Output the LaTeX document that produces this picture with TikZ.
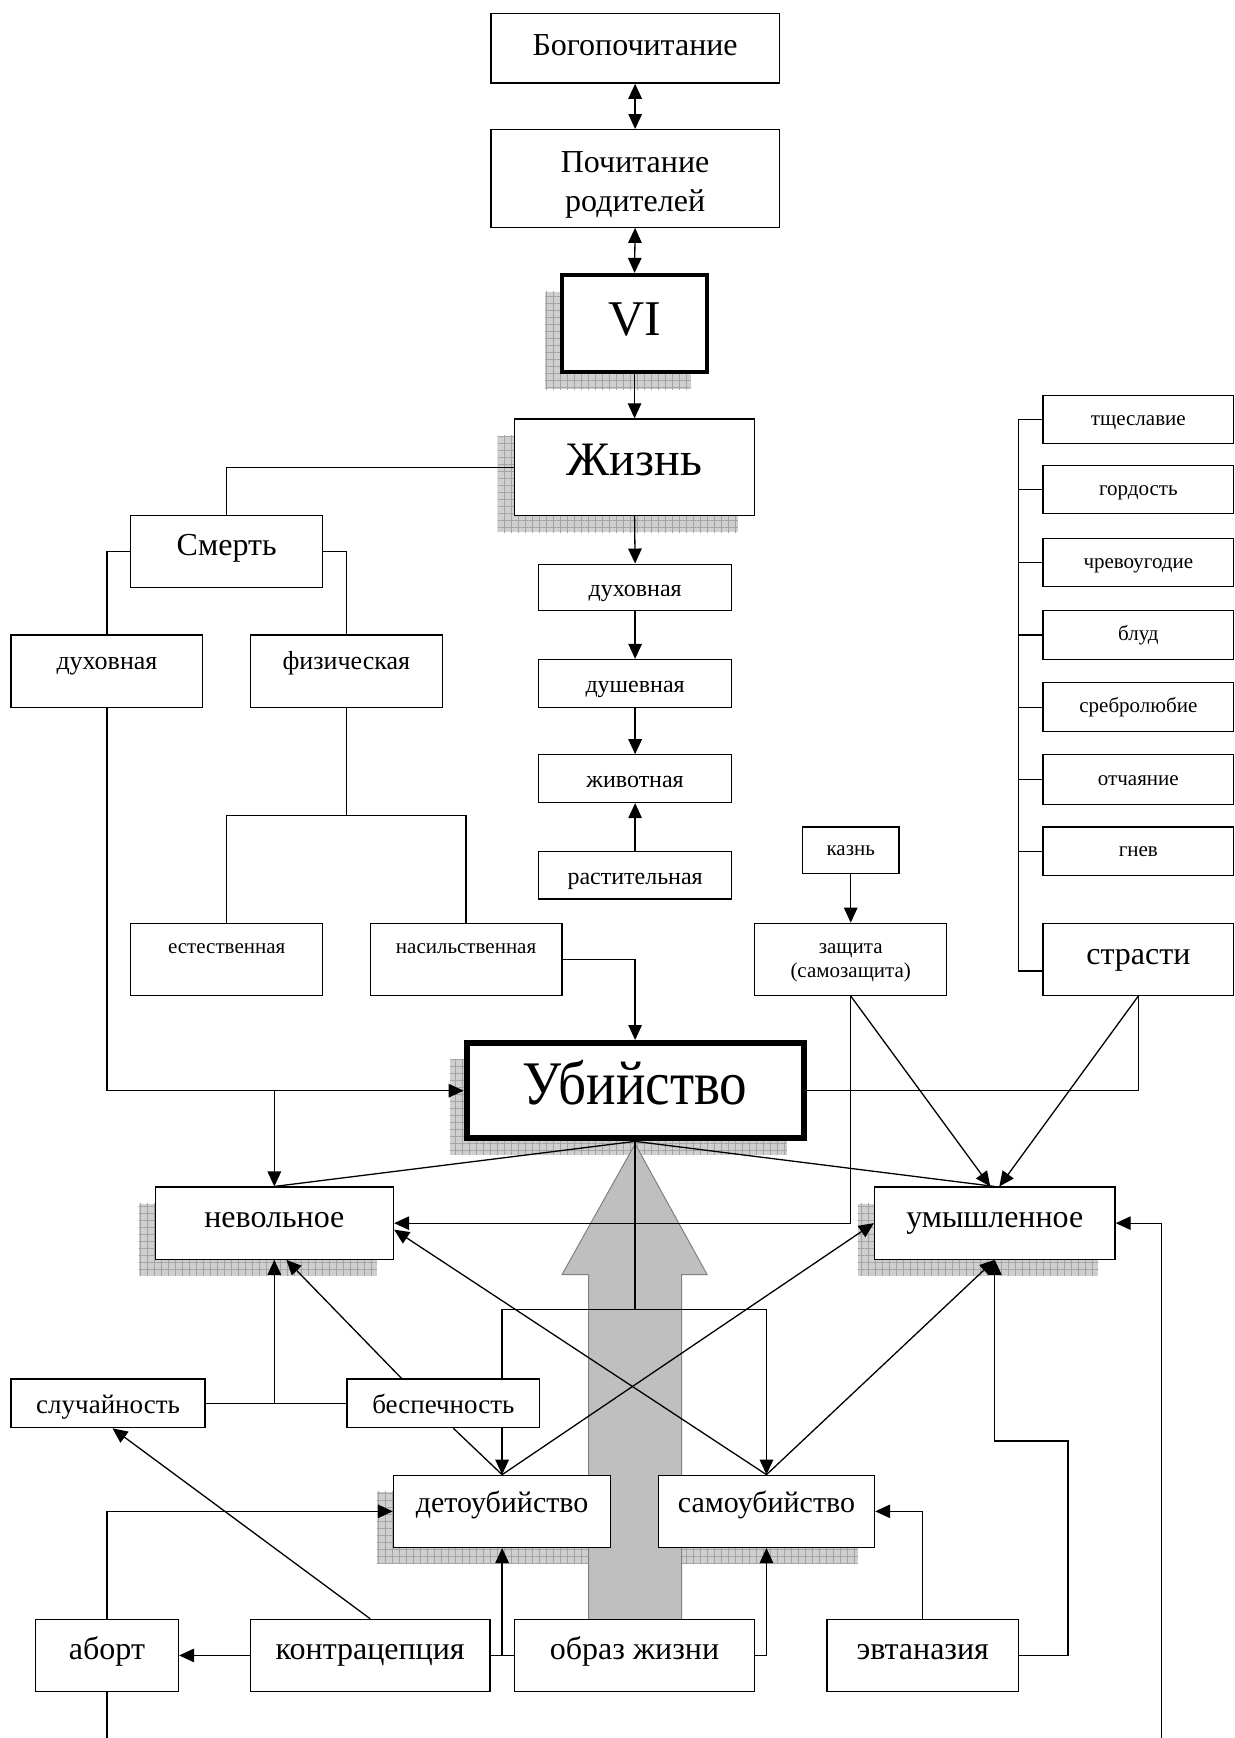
\documentclass[tikz,border=0pt]{standalone}
\usepackage{fontspec}
\setmainfont{Liberation Serif}
\newfontfamily\condfont[FakeStretch=0.89]{Liberation Serif}
\usetikzlibrary{arrows.meta,backgrounds,patterns.meta}
\begin{document}
\begin{tikzpicture}[x=1.1086pt,y=-1.1086pt,
  box/.style={draw,line width=1.3pt,fill=white,inner sep=0pt},
  bx/.style args={#1/#2/#3/#4}{at={({(#1+#3)/2},{(#2+#4)/2})},
      minimum width={(#3-#1)*1.1086pt},minimum height={(#4-#2)*1.1086pt}},
  ln/.style={line width=1.3pt},
  arr/.style={line width=1.3pt,-{Triangle[length=15pt,width=13.5pt]}},
  darr/.style={line width=1.3pt,{Triangle[length=15pt,width=13.5pt]}-{Triangle[length=15pt,width=13.5pt]}},
  tx/.style 2 args={text height=#1,text depth=#2},
  f21/.style={font=\fontsize{21}{24}\selectfont},
  f24/.style={font=\fontsize{24}{28}\selectfont},
  f26/.style={font=\fontsize{26}{30}\selectfont},
  f27/.style={font=\fontsize{27}{31}\selectfont},
  f30/.style={font=\fontsize{30}{35}\selectfont},
  f32/.style={font=\fontsize{32}{39}\selectfont},
  f48/.style={font=\fontsize{48}{56}\selectfont},
  f50/.style={font=\fontsize{50}{58}\selectfont},
  f62/.style={font=\condfont\fontsize{62}{70}\selectfont},
  shadowfill/.style={fill=gray!38},
  shadowgrid/.style={pattern={Hatch[angle=0,distance=7pt,line width=0.6pt]},pattern color=gray!72},
]
\useasboundingbox (0,0) rectangle (1114,1568);

% ---------- top chain ----------
\node[box,f32,tx={21.8pt}{7pt},bx=443/12/703/75] (bog) {Богопочитание};
\node[box,f32,align=center,bx=443/117/703/205] (poch) {\rule{0pt}{33pt}Почитание\\родителей};
\node[box,f50,line width=4pt,tx={34pt}{11pt},bx=507/248/638/336] (vi) {VI};
\node[box,f48,tx={32.6pt}{16pt},bx=464/378/681/465] (zh) {Жизнь};

% ---------- death branch ----------
\node[box,f32,tx={21.8pt}{14pt},bx=118/465/291/530] (smert) {Смерть};
\node[box,f26,tx={17.7pt}{21.2pt},bx=10/573/183/638] (dl) {духовная};
\node[box,f26,tx={17.7pt}{21.2pt},bx=226/573/399/638] (fiz) {физическая};
\node[box,f21,tx={14.3pt}{26.2pt},bx=118/833/291/898] (est) {естественная};
\node[box,f21,tx={14.3pt}{26.2pt},bx=334/833/507/898] (nas) {насильственная};

% ---------- life levels ----------
\node[box,f24,tx={23.5pt}{5.3pt},bx=486/509/660/551] (c1) {духовная};
\node[box,f24,tx={23.5pt}{5.3pt},bx=486/595/660/638] (c2) {душевная};
\node[box,f24,tx={23.5pt}{5.3pt},bx=486/681/660/724] (c3) {животная};
\node[box,f24,tx={23.5pt}{5.3pt},bx=486/768/660/811] (c4) {растительная};

% ---------- execution / defence ----------
\node[box,f21,tx={16pt}{4.6pt},bx=724/746/811/788] (kazn) {казнь};
\node[box,f21,align=center,bx=681/833/854/898] (zash) {\rule{0pt}{16pt}защита\\(самозащита)};

% ---------- passions ----------
\node[box,f21,tx={16pt}{4.6pt},bx=941/357/1113/400] (p1) {тщеславие};
\node[box,f21,tx={16pt}{4.6pt},bx=941/420/1113/463] (p2) {гордость};
\node[box,f21,tx={16pt}{4.6pt},bx=941/486/1113/529] (p3) {чревоугодие};
\node[box,f21,tx={16pt}{4.6pt},bx=941/551/1113/595] (p4) {блуд};
\node[box,f21,tx={16pt}{4.6pt},bx=941/616/1113/660] (p5) {сребролюбие};
\node[box,f21,tx={16pt}{4.6pt},bx=941/681/1113/726] (p6) {отчаяние};
\node[box,f21,tx={16pt}{4.6pt},bx=941/746/1113/790] (p7) {гнев};
\node[box,f32,tx={21.8pt}{11.4pt},bx=941/833/1113/898] (str) {страсти};

% ---------- murder ----------
\node[box,f62,line width=6pt,tx={42pt}{13.6pt},bx=421/941/725/1027] (ub) {Убийство};
\node[box,f32,tx={21.8pt}{13pt},bx=140/1071/355/1136] (nev) {невольное};
\node[box,f32,tx={21.8pt}{13pt},bx=789/1071/1006/1136] (um) {умышленное};
\node[box,f27,tx={26pt}{5.9pt},bx=10/1244/185/1288] (sl) {случайность};
\node[box,f27,tx={26pt}{5.9pt},bx=313/1244/487/1288] (bes) {беспечность};
\node[box,f30,tx={20.4pt}{17.6pt},bx=355/1331/551/1396] (det) {детоубийство};
\node[box,f30,tx={20.4pt}{17.6pt},bx=594/1331/789/1396] (sam) {самоубийство};
\node[box,f32,tx={21.8pt}{13pt},bx=32/1461/161/1526] (ab) {аборт};
\node[box,f32,tx={21.8pt}{13pt},bx=226/1461/442/1526] (kon) {контрацепция};
\node[box,f32,tx={21.8pt}{13pt},bx=464/1461/681/1526] (obr) {образ жизни};
\node[box,f32,tx={21.8pt}{13pt},bx=746/1461/919/1526] (evt) {эвтаназия};

\coordinate (bot) at (0,1568);
\coordinate (rb) at (1048,1568);
\coordinate (rc) at (919,0);

% ---------- connectors ----------
\draw[darr] (bog.south) -- (poch.north);
\draw[darr] (poch.south) -- (vi.north);
\draw[arr] (vi.south) -- (zh.north);
\draw[arr] (zh.south) -- (c1.north);
\draw[arr] (c1.south) -- (c2.north);
\draw[arr] (c2.south) -- (c3.north);
\draw[arr] (c4.north) -- (c3.south);

\draw[ln] (zh.west) -| (smert.north);
\draw[ln] (smert.west) -| (dl.north);
\draw[ln] (smert.east) -| (fiz.north);
\draw[ln] (fiz.south) -- ++(0,97) coordinate (fj);
\draw[ln] (est.north) |- (fj) -| (nas.north);

\draw[arr] (dl.south) |- (ub.west);
\draw[arr] (nev.north |- ub.west) -- (nev.north);
\draw[arr] (nas.east) -| (ub.north);

\draw[arr] (kazn.south) -- (zash.north);
\draw[arr] (zash.south) |- (nev.east);
\draw[arr] (zash.south) -- ([xshift=-4.5pt]um.north);
\draw[arr] (str.south) -- ([xshift=4.5pt]um.north);
\draw[ln] (ub.east) -| (str.south);

\draw[ln] (p1.west) -| ([yshift=-11.6pt]str.west -| rc) -- ([yshift=-11.6pt]str.west);
\foreach \p in {p2,p3,p4,p5,p6,p7} \draw[ln] (\p.west) -- (\p.west -| rc);

\draw[ln] (ub.south) -- (nev.north);
\draw[ln] (ub.south) -- (um.north);

\draw[arr] (det.north) -- (um.west);
\draw[arr] (sam.north) -- ([yshift=-6.5pt]nev.east);
\draw[arr] (sam.north) -- (um.south);

\draw[ln] ([xshift=10pt]bes.south) -- (det.north);
\draw[arr] ([xshift=-42pt]bes.north) -- ([xshift=12pt]nev.south);
\draw[ln] (sl.east) -- (bes.west);
\draw[arr] (nev.south |- sl.east) -- (nev.south);

\draw[arr] (kon.north) -- ([xshift=4.4pt]sl.south);
\draw[arr] (kon.west) -- (ab.east);
\draw[arr] (ab.north) |- (det.west);
\draw[ln] (kon.east) -- (obr.west);
\draw[arr] (det.south |- obr.west) -- (det.south);
\draw[arr] (obr.east) -| (sam.south);
\draw[arr] (evt.north) |- (sam.east);
\draw[arr] (evt.east) -- ++(44,0) -- ++(0,-193.5) -| (um.south);
\draw[ln] (ab.south) -- (ab.south |- bot);
\draw[arr] (rb) |- (um.east);

% ---------- background: shadows, big arrow, lines passing behind boxes ----------
\begin{scope}[on background layer]
  \foreach \a/\b/\c/\d in {492/263/623/351, 449/393/666/480, 406/956/710/1042,
      125/1086/340/1151, 774/1086/991/1151, 340/1346/536/1411, 579/1346/774/1411}{
    \fill[shadowfill] (\a,\b) rectangle (\c,\d);
    \fill[shadowgrid] (\a,\b) rectangle (\c,\d);
  }
  \filldraw[fill=gray!50,draw=gray,line width=1pt]
    (531,1475) -- (531,1150) -- (507,1150) -- (573,1032) -- (638,1150)
    -- (615,1150) -- (615,1475) -- cycle;
  \draw[ln] (ub.south) -- ++(0,152) coordinate (hub);
  \draw[arr] (hub) -| (det.north);
  \draw[arr] (hub) -| (sam.north);
\end{scope}
\end{tikzpicture}
\end{document}
